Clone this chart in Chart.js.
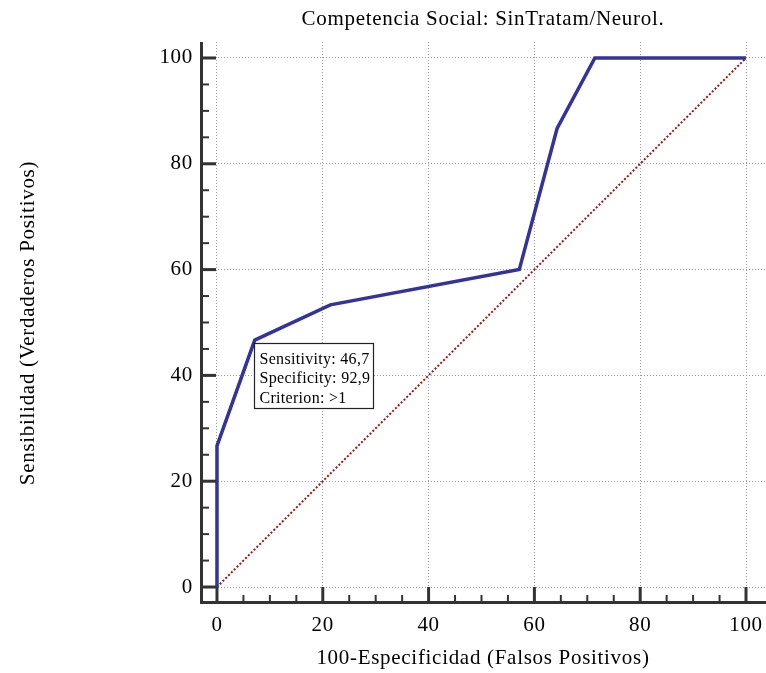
<!DOCTYPE html>
<html>
<head>
<meta charset="utf-8">
<script src="https://cdn.jsdelivr.net/npm/chart.js@4/dist/chart.umd.min.js"></script>
<style>
  html, body { margin: 0; padding: 0; background: #fff; }
  #wrap { width: 766px; height: 673px; }
</style>
</head>
<body>
<div id="wrap"><canvas id="roc" width="766" height="673"></canvas></div>
<script>
// ROC curve points: 100-specificity (x) vs sensitivity (y)
const falsePositiveRate = [0, 0, 7.14, 21.43, 57.14, 64.29, 71.43, 100];
const sensitivity = [0, 26.67, 46.67, 53.33, 60, 86.67, 100, 100];
// Reference (chance) diagonal
const diagonalX = [0, 100];
const diagonalY = [0, 100];
// Axis ticks
const majorTicks = [0, 20, 40, 60, 80, 100];
const minorTicks = [5, 10, 15, 25, 30, 35, 45, 50, 55, 65, 70, 75, 85, 90, 95];
// Optimal criterion annotation
const criterionPoint = { x: 7.14, y: 46.67 };
const criterionLines = ['Sensitivity: 46,7', 'Specificity: 92,9', 'Criterion: >1'];
const chartTitle = 'Competencia Social: SinTratam/Neurol.';

const FONT = '"Liberation Serif", "Times New Roman", serif';
const AXIS_COLOR = '#333333';

const toPoints = (xs, ys) => xs.map((x, i) => ({ x, y: ys[i] }));

// Slightly loose letter spacing for all chart text
const spacingPlugin = {
  id: 'textSpacing',
  beforeDraw(chart) {
    chart.ctx.letterSpacing = '0.7px';
  }
};

// Draws the title, the detached axis lines with inward tick marks and the criterion box
const axesPlugin = {
  id: 'rocAxes',
  afterDatasetsDraw(chart) {
    const { ctx, chartArea, scales: { x, y } } = chart;
    ctx.save();
    // title centred over the plot area
    ctx.fillStyle = '#000';
    ctx.font = '21px ' + FONT;
    ctx.textAlign = 'center';
    ctx.textBaseline = 'middle';
    ctx.fillText(chartTitle, (chartArea.left + chartArea.right) / 2, 19);

    ctx.strokeStyle = AXIS_COLOR;
    ctx.lineCap = 'butt';
    // axis lines
    ctx.lineWidth = 3;
    ctx.beginPath();
    ctx.moveTo(chartArea.left + 1.5, chartArea.top);
    ctx.lineTo(chartArea.left + 1.5, chartArea.bottom - 1.5);
    ctx.lineTo(chartArea.right, chartArea.bottom - 1.5);
    ctx.stroke();
    // major ticks
    majorTicks.forEach(v => {
      const py = y.getPixelForValue(v);
      ctx.beginPath();
      ctx.moveTo(chartArea.left + 1.5, py);
      ctx.lineTo(chartArea.left + 16, py);
      ctx.stroke();
      const px = x.getPixelForValue(v);
      ctx.beginPath();
      ctx.moveTo(px, chartArea.bottom - 1.5);
      ctx.lineTo(px, chartArea.bottom - 17);
      ctx.stroke();
    });
    // minor ticks
    ctx.lineWidth = 2;
    minorTicks.forEach(v => {
      const py = y.getPixelForValue(v);
      ctx.beginPath();
      ctx.moveTo(chartArea.left + 1.5, py);
      ctx.lineTo(chartArea.left + 9, py);
      ctx.stroke();
      const px = x.getPixelForValue(v);
      ctx.beginPath();
      ctx.moveTo(px, chartArea.bottom - 1.5);
      ctx.lineTo(px, chartArea.bottom - 9);
      ctx.stroke();
    });
    // criterion box
    const bx = Math.round(x.getPixelForValue(criterionPoint.x)) - 0.5;
    const by = Math.round(y.getPixelForValue(criterionPoint.y)) + 3.5;
    const bw = 119, bh = 65;
    ctx.fillStyle = '#ffffff';
    ctx.fillRect(bx, by, bw, bh);
    ctx.strokeStyle = '#222222';
    ctx.lineWidth = 1.2;
    ctx.strokeRect(bx, by, bw, bh);
    ctx.fillStyle = '#000000';
    ctx.letterSpacing = '0.3px';
    ctx.font = '16px ' + FONT;
    ctx.textBaseline = 'alphabetic';
    ctx.textAlign = 'left';
    criterionLines.forEach((t, i) => {
      ctx.fillText(t, bx + 5, by + 20 + i * 19.5);
    });
    ctx.restore();
  }
};

new Chart(document.getElementById('roc'), {
  type: 'scatter',
  data: {
    datasets: [
      {
        label: 'ROC',
        data: toPoints(falsePositiveRate, sensitivity),
        showLine: true,
        borderColor: '#333399',
        borderWidth: 3.5,
        pointRadius: 0,
        fill: false,
        tension: 0,
        order: 1
      },
      {
        label: 'Diagonal',
        data: toPoints(diagonalX, diagonalY),
        showLine: true,
        borderColor: '#a01515',
        borderWidth: 2,
        borderDash: [2, 2],
        pointRadius: 0,
        fill: false,
        order: 2
      }
    ]
  },
  options: {
    responsive: false,
    animation: false,
    layout: { padding: { top: 42, right: 0, bottom: 0, left: 0 } },
    plugins: {
      legend: { display: false },
      tooltip: { enabled: false },
      title: { display: false }
    },
    scales: {
      x: {
        type: 'linear',
        min: -3.21,
        max: 103.78,
        afterBuildTicks: s => { s.ticks = majorTicks.map(v => ({ value: v })); },
        afterFit: s => { s.height = 69; s.paddingLeft = 0; s.paddingRight = 0; },
        ticks: {
          color: '#000',
          font: { family: FONT, size: 21 },
          padding: 9,
          maxRotation: 0,
          callback: v => String(v)
        },
        grid: { color: '#9a9a9a', lineWidth: 1, drawTicks: false },
        border: { display: false, dash: [1, 2] },
        title: {
          display: true,
          text: '100-Especificidad (Falsos Positivos)',
          color: '#000',
          font: { family: FONT, size: 21 },
          padding: { top: 0, bottom: 2 }
        }
      },
      y: {
        type: 'linear',
        min: -3.21,
        max: 103.02,
        afterBuildTicks: s => { s.ticks = majorTicks.map(v => ({ value: v })); },
        afterFit: s => { s.width = 200; s.paddingTop = 0; s.paddingBottom = 0; },
        ticks: {
          color: '#000',
          font: { family: FONT, size: 21 },
          padding: 7,
          callback: v => String(v)
        },
        grid: { color: '#9a9a9a', lineWidth: 1, drawTicks: false },
        border: { display: false, dash: [1, 2] },
        title: {
          display: true,
          text: 'Sensibilidad (Verdaderos Positivos)',
          color: '#000',
          font: { family: FONT, size: 21 },
          padding: { top: 16, bottom: 0 }
        }
      }
    }
  },
  plugins: [spacingPlugin, axesPlugin]
});
</script>
</body>
</html>
